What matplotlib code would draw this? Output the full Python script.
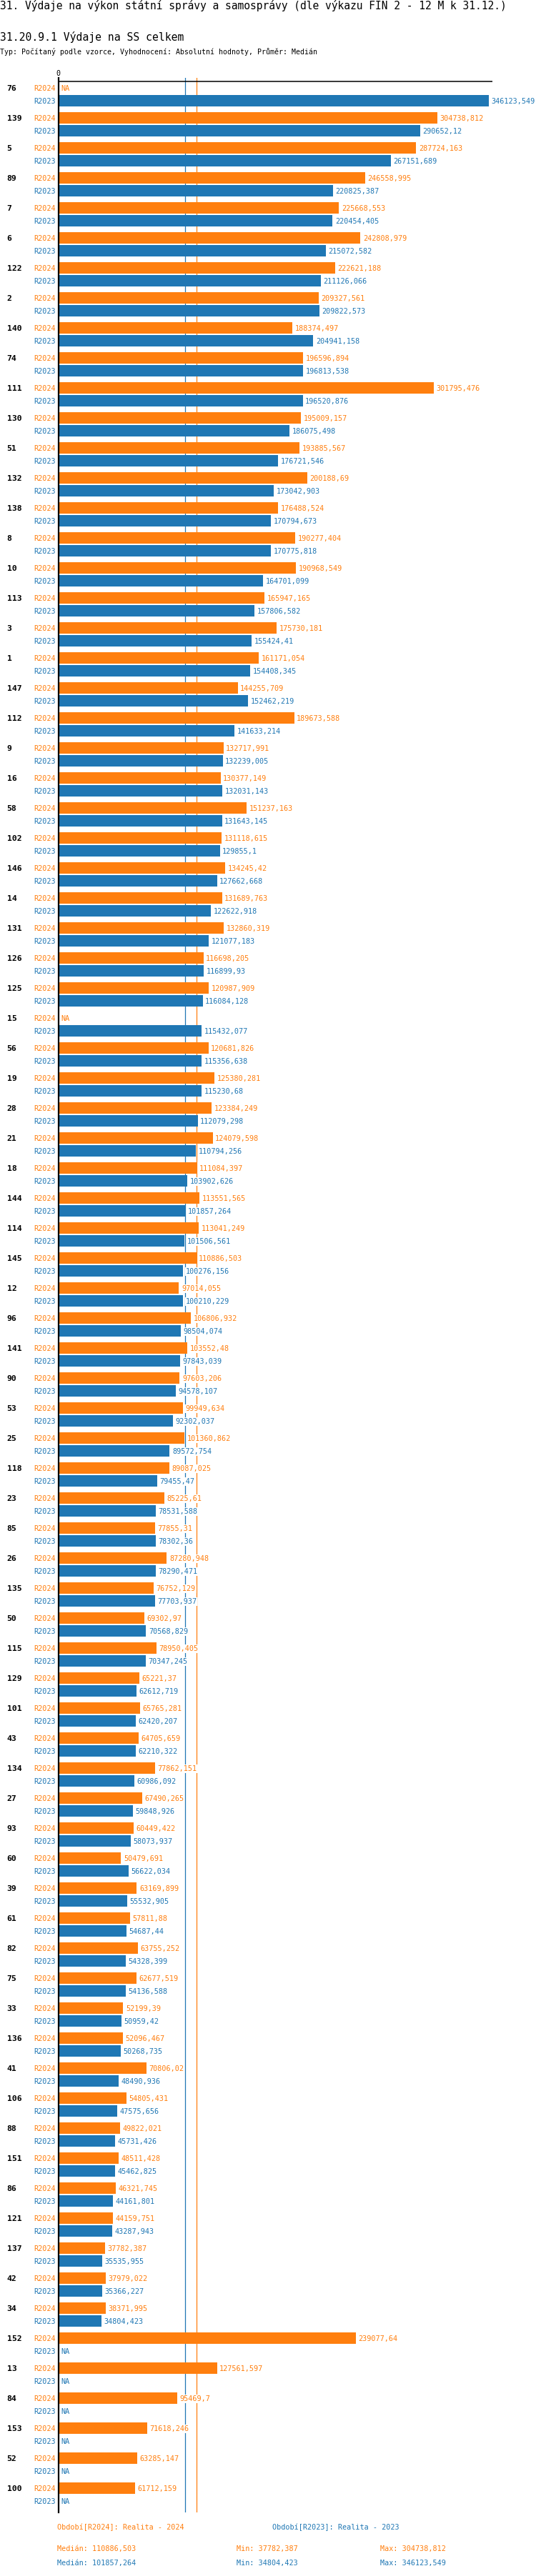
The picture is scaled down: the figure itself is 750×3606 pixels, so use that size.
import numpy as np
import matplotlib
matplotlib.use("Agg")
import matplotlib.pyplot as plt
import matplotlib.transforms as mtransforms

nan = np.nan

groups = ['76', '139', '5', '89', '7', '6', '122', '2', '140', '74',
          '111', '130', '51', '132', '138', '8', '10', '113', '3', '1',
          '147', '112', '9', '16', '58', '102', '146', '14', '131', '126',
          '125', '15', '56', '19', '28', '21', '18', '144', '114', '145',
          '12', '96', '141', '90', '53', '25', '118', '23', '85', '26',
          '135', '50', '115', '129', '101', '43', '134', '27', '93', '60',
          '39', '61', '82', '75', '33', '136', '41', '106', '88', '151',
          '86', '121', '137', '42', '34', '152', '13', '84', '153', '52',
          '100']

r2024 = [nan, 304738.812, 287724.163, 246558.995, 225668.553, 242808.979, 222621.188, 209327.561, 188374.497, 196596.894,
         301795.476, 195009.157, 193885.567, 200188.69, 176488.524, 190277.404, 190968.549, 165947.165, 175730.181, 161171.054,
         144255.709, 189673.588, 132717.991, 130377.149, 151237.163, 131118.615, 134245.42, 131689.763, 132860.319, 116698.205,
         120987.909, nan, 120681.826, 125380.281, 123384.249, 124079.598, 111084.397, 113551.565, 113041.249, 110886.503,
         97014.055, 106806.932, 103552.48, 97603.206, 99949.634, 101360.862, 89087.025, 85225.61, 77855.31, 87280.948,
         76752.129, 69302.97, 78950.405, 65221.37, 65765.281, 64705.659, 77862.151, 67490.265, 60449.422, 50479.691,
         63169.899, 57811.88, 63755.252, 62677.519, 52199.39, 52096.467, 70806.02, 54805.431, 49822.021, 48511.428,
         46321.745, 44159.751, 37782.387, 37979.022, 38371.995, 239077.64, 127561.597, 95469.7, 71618.246, 63285.147,
         61712.159]

r2023 = [346123.549, 290652.12, 267151.689, 220825.387, 220454.405, 215072.582, 211126.066, 209822.573, 204941.158, 196813.538,
         196520.876, 186075.498, 176721.546, 173042.903, 170794.673, 170775.818, 164701.099, 157806.582, 155424.41, 154408.345,
         152462.219, 141633.214, 132239.005, 132031.143, 131643.145, 129855.1, 127662.668, 122622.918, 121077.183, 116899.93,
         116084.128, 115432.077, 115356.638, 115230.68, 112079.298, 110794.256, 103902.626, 101857.264, 101506.561, 100276.156,
         100210.229, 98504.074, 97843.039, 94578.107, 92302.037, 89572.754, 79455.47, 78531.588, 78302.36, 78290.471,
         77703.937, 70568.829, 70347.245, 62612.719, 62420.207, 62210.322, 60986.092, 59848.926, 58073.937, 56622.034,
         55532.905, 54687.44, 54328.399, 54136.588, 50959.42, 50268.735, 48490.936, 47575.656, 45731.426, 45462.825,
         44161.801, 43287.943, 35535.955, 35366.227, 34804.423, nan, nan, nan, nan, nan,
         nan]

series_names = ['R2024', 'R2023']
series_titles = ['Období[R2024]: Realita - 2024', 'Období[R2023]: Realita - 2023']
colors = ['#ff7f0e', '#1f77b4']

title = "31. Výdaje na výkon státní správy a samosprávy (dle výkazu FIN 2 - 12 M k 31.12.)"
subtitle = "31.20.9.1 Výdaje na SS celkem"
info = "Typ: Počítaný podle vzorce, Vyhodnocení: Absolutní hodnoty, Průměr: Medián"

MONO = 'DejaVu Sans Mono'
W, H = 750, 3606


def fmt(v):
    s = f"{v:.3f}".rstrip('0').rstrip('.')
    return s.replace('.', ',')


fig = plt.figure(figsize=(W / 100, H / 100), dpi=100)
fig.patch.set_facecolor('white')

ax_left, ax_right = 81.5, 689.0
ax_top, ax_bottom = 109.0, 3517.0
ax = fig.add_axes([ax_left / W, 1 - ax_bottom / H, (ax_right - ax_left) / W, (ax_bottom - ax_top) / H])

pitch = 42.0
first_center = 123.3
ax.set_xlim(0, 348900)
ax.set_ylim((ax_bottom - first_center) / pitch, (ax_top - first_center) / pitch)

for s in ['right', 'bottom', 'top']:
    ax.spines[s].set_visible(False)
ax.spines['left'].set_linewidth(1.6)
ax.spines['left'].set_color('black')
ax.spines['left'].set_zorder(5)

ax.axhline((114.3 - first_center) / pitch, color='black', lw=1.1, zorder=5)

ax.xaxis.set_ticks_position('top')
ax.set_xticks([0])
ax.set_xticklabels(['0'], fontfamily=MONO, fontsize=7.2)
ax.tick_params(axis='x', length=0, pad=1)
ax.set_yticks([])

idx = np.arange(len(groups))
offsets = [0.0, 18.0 / pitch]
bar_h = 16.0 / pitch
series = [np.array(r2024, dtype=float), np.array(r2023, dtype=float)]

# median lines
for vals, c in zip(series, colors):
    ax.axvline(np.nanmedian(vals), color=c, lw=0.9, zorder=1)

blend = mtransforms.blended_transform_factory(fig.transFigure, ax.transData)

for k, (vals, name, c, off) in enumerate(zip(series, series_names, colors, offsets)):
    ys = idx + off
    ax.barh(ys, np.nan_to_num(vals), height=bar_h, color=c, zorder=2)
    for y, v in zip(ys, vals):
        ax.annotate(name, xy=(0, y), xycoords=('axes fraction', 'data'),
                    xytext=(-4, 0), textcoords='offset pixels',
                    ha='right', va='center_baseline', fontfamily=MONO, fontsize=7.3, color=c)
        if np.isnan(v):
            txt, xv = 'NA', 0
        else:
            txt, xv = fmt(v), v
        ax.annotate(txt, xy=(xv, y), xycoords='data', xytext=(3.5, 0), textcoords='offset pixels',
                    ha='left', va='center_baseline', fontfamily=MONO, fontsize=7.3, color=c, zorder=4,
                    bbox=dict(facecolor='white', edgecolor='none', pad=0.6))

for i, g in zip(idx, groups):
    ax.text(9.6 / W, i, g, transform=blend, ha='left', va='center_baseline',
            fontfamily=MONO, fontsize=8.2, fontweight='bold', color='black')

# Titles
fig.text(0, 1 - 8 / H, title, ha='left', va='center', fontfamily=MONO, fontsize=10.5, color='black')
fig.text(0, 1 - 52 / H, subtitle, ha='left', va='center', fontfamily=MONO, fontsize=10.6, color='black')
fig.text(0, 1 - 73 / H, info, ha='left', va='center', fontfamily=MONO, fontsize=7.1, color='black')

# Legend / stats
leg_x = [80, 381]
for x, t, c in zip(leg_x, series_titles, colors):
    fig.text(x / W, 1 - 3538 / H, t, ha='left', va='center', fontfamily=MONO, fontsize=7.3, color=c)

for row_y, vals, c in zip([3568, 3588], series, colors):
    fig.text(80 / W, 1 - row_y / H, 'Medián: ' + fmt(np.nanmedian(vals)), ha='left', va='center',
             fontfamily=MONO, fontsize=7.3, color=c)
    fig.text(331 / W, 1 - row_y / H, 'Min: ' + fmt(np.nanmin(vals)), ha='left', va='center',
             fontfamily=MONO, fontsize=7.3, color=c)
    fig.text(532 / W, 1 - row_y / H, 'Max: ' + fmt(np.nanmax(vals)), ha='left', va='center',
             fontfamily=MONO, fontsize=7.3, color=c)

fig.savefig('out.png', dpi=100, facecolor='white')
